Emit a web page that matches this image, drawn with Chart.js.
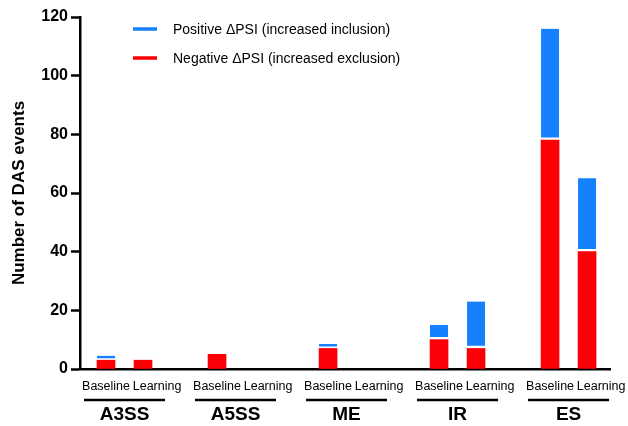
<!DOCTYPE html>
<html>
<head>
<meta charset="utf-8">
<script src="https://cdn.jsdelivr.net/npm/chart.js@4/dist/chart.umd.min.js"></script>
<style>
  html, body { margin: 0; padding: 0; background: #fff; }
  #wrap { width: 628px; height: 426px; }
</style>
</head>
<body>
<div id="wrap"><canvas id="c" width="628" height="426"></canvas></div>
<script>
// event types and conditions
const groups = ['A3SS', 'A5SS', 'ME', 'IR', 'ES'];
const conditions = ['Baseline', 'Learning'];
// counts per group x condition (Baseline, Learning)
const positiveCounts = [1.5, 0, 0, 0, 1.5, 0, 5, 16, 38, 25];
const negativeCounts = [3, 3, 5, 0, 7, 0, 10, 7, 78, 40];
const yTicks = [0, 20, 40, 60, 80, 100, 120];

const BLUE = '#1681ff';
const RED = '#fb0006';

// each group takes 2 slots + 1 empty slot
const slotOf = i => Math.floor(i / 2) * 3 + (i % 2);
const slots = positiveCounts.map((v, i) => slotOf(i));
const toPoints = arr => arr.map((v, i) => ({ x: slotOf(i), y: v > 0 ? v : null }));
// "Learning" labels sit a bit right of their bar in the original
const labelShift = [0, 0.38];

Chart.defaults.font.family = "'Liberation Sans', Arial, sans-serif";
Chart.defaults.color = '#000';

// legend + group labels drawn by hand
const extras = {
  id: 'extras',
  afterDraw(chart) {
    const ctx = chart.ctx;
    const xs = chart.scales.x;
    ctx.save();
    // legend
    chart.data.datasets.forEach((ds, k) => {
      const y = 29 + k * 29;
      ctx.strokeStyle = ds.backgroundColor;
      ctx.lineWidth = 3.5;
      ctx.beginPath();
      ctx.moveTo(133, y);
      ctx.lineTo(157, y);
      ctx.stroke();
      ctx.fillStyle = '#000';
      ctx.font = "14px 'Liberation Sans', Arial, sans-serif";
      ctx.textAlign = 'left';
      ctx.textBaseline = 'middle';
      ctx.fillText(ds.label, 173, y + 1);
    });
    // group underline + names
    groups.forEach((g, k) => {
      const cx = (xs.getPixelForValue(k * 3) + xs.getPixelForValue(k * 3 + 1)) / 2;
      ctx.strokeStyle = '#000';
      ctx.lineWidth = 2.5;
      ctx.beginPath();
      ctx.moveTo(cx - 40.5, 400);
      ctx.lineTo(cx + 40.5, 400);
      ctx.stroke();
      ctx.fillStyle = '#000';
      ctx.font = "bold 19px 'Liberation Sans', Arial, sans-serif";
      ctx.textAlign = 'center';
      ctx.textBaseline = 'middle';
      ctx.fillText(g, cx, 415);
    });
    ctx.restore();
  }
};

new Chart(document.getElementById('c'), {
  type: 'bar',
  data: {
    datasets: [
      {
        label: 'Positive \u0394PSI (increased inclusion)',
        data: toPoints(positiveCounts),
        backgroundColor: BLUE,
        borderColor: '#fff',
        borderWidth: { top: 0, bottom: 3, left: 0, right: 0 },
        borderSkipped: false,
        barThickness: 18,
        order: 2
      },
      {
        label: 'Negative \u0394PSI (increased exclusion)',
        data: toPoints(negativeCounts),
        backgroundColor: RED,
        borderWidth: 0,
        barThickness: 18,
        order: 1
      }
    ]
  },
  options: {
    responsive: false,
    animation: false,
    layout: { padding: { top: 17, right: 18, left: 0, bottom: 0 } },
    plugins: {
      legend: { display: false },
      tooltip: { enabled: false }
    },
    scales: {
      x: {
        type: 'linear',
        stacked: true,
        offset: false,
        min: -0.703,
        max: 13.62,
        afterFit: s => { s.height = 57; },
        afterBuildTicks: s => {
          s.ticks = slots.map(v => ({ value: v + labelShift[v % 3] }));
        },
        grid: { display: false },
        border: { display: true, color: '#000', width: 2.5 },
        ticks: {
          autoSkip: false,
          maxRotation: 0,
          padding: 2,
          color: '#000',
          font: { size: 12.5 },
          callback: v => conditions[Math.round(v) % 3] || ''
        }
      },
      y: {
        stacked: true,
        min: 0,
        max: 120,
        afterFit: s => { s.width = 80; },
        afterBuildTicks: s => { s.ticks = yTicks.map(v => ({ value: v })); },
        grid: {
          display: true,
          drawOnChartArea: false,
          drawTicks: true,
          tickLength: 9,
          tickWidth: 2.5,
          tickColor: '#000'
        },
        border: { display: true, color: '#000', width: 2.5 },
        ticks: {
          padding: 3,
          color: '#000',
          font: { size: 16, weight: 'bold' }
        },
        title: {
          display: true,
          text: 'Number of DAS events',
          color: '#000',
          font: { size: 17, weight: 'bold' },
          padding: { top: 9, bottom: 0 }
        }
      }
    }
  },
  plugins: [extras]
});
</script>
</body>
</html>
